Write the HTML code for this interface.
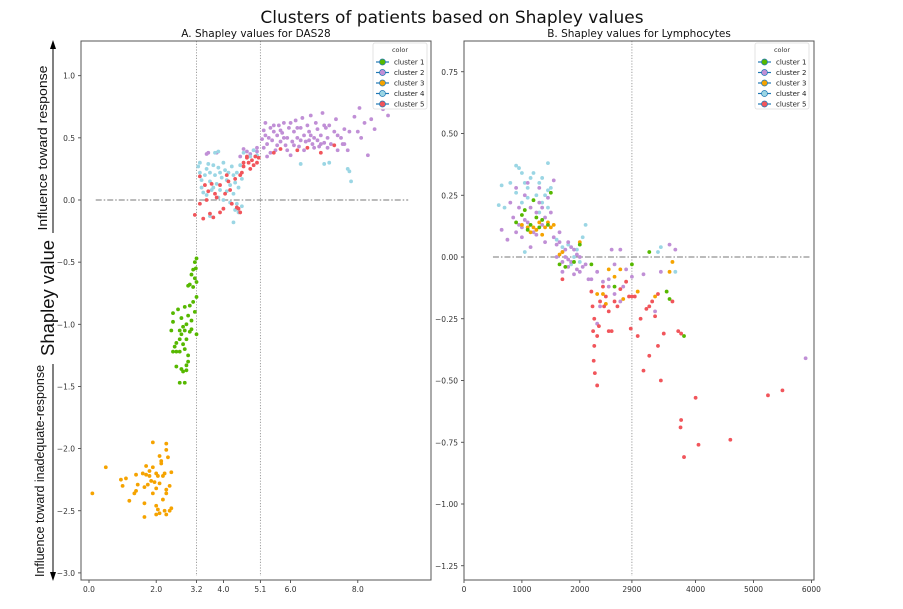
<!DOCTYPE html>
<html><head><meta charset="utf-8">
<style>
body{margin:0;background:#fff;width:903px;height:604px;overflow:hidden;font-family:"Liberation Sans","DejaVu Sans",sans-serif}
svg text{font-family:"DejaVu Sans","Liberation Sans",sans-serif}
svg text.lib{font-family:"Liberation Sans","DejaVu Sans",sans-serif}
</style></head>
<body>
<svg id="fig" width="903" height="604" viewBox="0 0 903 604" xmlns="http://www.w3.org/2000/svg">
<text x="452" y="23" text-anchor="middle" font-size="17" fill="#111">Clusters of patients based on Shapley values</text>
<text class="lib" transform="translate(54,298) rotate(-90)" text-anchor="middle" font-size="18" textLength="116" lengthAdjust="spacingAndGlyphs" fill="#111">Shapley value</text>
<text class="lib" transform="translate(47,148) rotate(-90)" text-anchor="middle" font-size="13" textLength="165" lengthAdjust="spacingAndGlyphs" fill="#111">Influence toward response</text>
<text class="lib" transform="translate(44,471) rotate(-90)" text-anchor="middle" font-size="13" textLength="212" lengthAdjust="spacingAndGlyphs" fill="#111">Influence toward inadequate-response</text>
<g>
<line x1="53" y1="48" x2="53" y2="233" stroke="#000" stroke-width="1"/>
<line x1="53" y1="364" x2="53" y2="572" stroke="#000" stroke-width="1"/>
<polygon points="53,40 50,49 56,49" fill="#000"/>
<polygon points="53,581 50,572 56,572" fill="#000"/>
</g>
<g id="panelA"></g>
<g id="panelB"></g>
</svg>
<script>
const colors=['#56b800','#c08fd6','#f5a300','#9bd6e4','#f1555b'];
const clusterNames=['cluster 1','cluster 2','cluster 3','cluster 4','cluster 5'];
const aXTicks=[0,2,3.2,4,5.1,6,8];
const aXTickLabels=['0.0','2.0','3.2','4.0','5.1','6.0','8.0'];
const aYTicks=[1,0.5,0,-0.5,-1,-1.5,-2,-2.5,-3];
const aYTickLabels=['1.0','0.5','0.0','\u22120.5','\u22121.0','\u22121.5','\u22122.0','\u22122.5','\u22123.0'];
const aVLines=[3.2,5.1];
const bXTicks=[0,1000,2000,2900,4000,5000,6000];
const bXTickLabels=['0','1000','2000','2900','4000','5000','6000'];
const bYTicks=[0.75,0.5,0.25,0,-0.25,-0.5,-0.75,-1,-1.25];
const bYTickLabels=['0.75','0.50','0.25','0.00','\u22120.25','\u22120.50','\u22120.75','\u22121.00','\u22121.25'];
const bVLines=[2900];
// Panel A data [x, shap]
const aCluster1=[[3.2,-0.47],[3.15,-0.5],[3.18,-0.55],[3.1,-0.56],[3.05,-0.6],[3.15,-0.63],[3.2,-0.66],[3.0,-0.68],[3.1,-0.7],[2.95,-0.69],[3.2,-0.78],[3.1,-0.82],[3.0,-0.85],[2.85,-0.86],[2.65,-0.88],[3.15,-0.9],[2.95,-0.93],[2.75,-0.95],[3.05,-0.97],[2.9,-1.0],[2.5,-0.98],[2.45,-1.05],[3.2,-1.08],[2.8,-1.02],[2.7,-1.05],[2.75,-1.08],[2.85,-1.05],[3.05,-1.04],[3.0,-1.06],[2.9,-1.12],[2.6,-1.15],[2.7,-1.12],[2.8,-1.16],[2.85,-1.2],[2.55,-1.18],[2.5,-1.22],[2.6,-1.22],[2.7,-1.22],[2.95,-1.25],[2.95,-1.3],[2.9,-1.33],[2.6,-1.34],[2.75,-1.36],[2.8,-1.38],[2.9,-1.37],[2.7,-1.47],[2.85,-1.47],[2.5,-0.91]];
const aCluster3=[[0.1,-2.36],[0.5,-2.15],[0.95,-2.25],[1.1,-2.24],[1.0,-2.3],[1.2,-2.42],[1.35,-2.36],[1.4,-2.34],[1.45,-2.29],[1.4,-2.21],[1.6,-2.2],[1.7,-2.21],[1.7,-2.14],[1.65,-2.31],[1.75,-2.29],[1.65,-2.44],[1.65,-2.55],[1.8,-2.18],[1.9,-2.15],[1.85,-2.26],[1.8,-2.22],[1.95,-2.27],[1.9,-2.36],[2.0,-2.32],[2.05,-2.22],[2.1,-2.28],[2.0,-2.46],[2.05,-2.49],[2.1,-2.52],[2.0,-2.53],[2.1,-2.06],[2.15,-2.1],[2.2,-2.22],[2.25,-2.2],[2.2,-2.41],[2.3,-2.33],[2.3,-2.36],[2.25,-2.5],[2.3,-2.53],[2.4,-2.5],[2.45,-2.48],[2.4,-2.3],[2.45,-2.19],[2.35,-2.07],[2.3,-2.01],[2.3,-1.96],[1.9,-1.95],[2.0,-2.2],[2.15,-2.12]];
const aCluster4=[[3.25,0.27],[3.3,0.22],[3.35,0.16],[3.4,0.06],[3.35,0.1],[3.45,0.2],[3.5,0.25],[3.55,0.29],[3.6,0.22],[3.6,0.15],[3.65,0.08],[3.5,0.04],[3.7,0.28],[3.75,0.2],[3.8,0.13],[3.85,0.26],[3.9,0.22],[3.95,0.18],[3.9,0.08],[3.85,0.02],[4.0,0.3],[4.05,0.24],[4.1,0.16],[4.1,0.07],[4.15,0.22],[4.2,0.12],[4.25,0.27],[4.3,0.2],[4.3,0.05],[4.35,0.14],[4.4,0.22],[4.45,0.1],[4.4,-0.03],[4.5,0.28],[4.55,0.17],[4.55,-0.05],[4.35,-0.08],[4.45,-0.1],[4.3,-0.18],[3.6,-0.13],[3.75,0.38],[3.85,0.39],[4.6,0.38],[4.8,0.35],[5.0,0.36],[4.9,0.4],[6.3,0.29],[7.0,0.29],[7.15,0.3],[7.7,0.25],[7.75,0.23],[7.8,0.15],[3.3,0.3],[3.7,0.1],[4.0,0.0],[4.2,-0.02]];
const aCluster5=[[3.15,-0.12],[3.3,0.19],[3.3,-0.03],[3.45,0.12],[3.5,0.0],[3.55,0.07],[3.6,-0.11],[3.7,-0.14],[3.65,0.13],[3.75,0.05],[3.8,0.02],[3.9,-0.1],[3.9,0.12],[4.0,-0.07],[4.05,0.05],[4.1,0.2],[4.2,0.08],[4.25,-0.03],[4.35,0.17],[4.4,-0.06],[4.45,-0.07],[4.5,-0.1],[4.55,0.22],[4.5,0.2],[4.6,0.27],[4.6,0.3],[4.7,0.34],[4.75,0.3],[4.8,0.25],[4.85,0.32],[4.9,0.28],[5.0,0.3],[5.05,0.34],[4.95,0.35],[4.7,0.35],[5.5,0.38],[5.7,0.41],[6.2,0.4],[6.5,0.42],[6.9,0.38],[7.3,0.44],[3.4,-0.15],[4.15,0.15]];
const aCluster2=[[3.5,0.37],[3.55,0.38],[3.8,0.38],[4.5,0.35],[4.6,0.41],[4.7,0.39],[4.8,0.37],[4.9,0.4],[5.0,0.39],[5.0,0.42],[5.15,0.49],[5.2,0.56],[5.25,0.62],[5.3,0.45],[5.35,0.5],[5.4,0.58],[5.45,0.48],[5.5,0.55],[5.55,0.4],[5.6,0.52],[5.65,0.6],[5.7,0.47],[5.75,0.54],[5.8,0.62],[5.85,0.44],[5.9,0.5],[5.95,0.58],[6.0,0.36],[6.05,0.47],[6.1,0.55],[6.15,0.64],[6.2,0.5],[6.25,0.43],[6.3,0.58],[6.35,0.66],[6.4,0.52],[6.45,0.47],[6.5,0.6],[6.55,0.55],[6.6,0.68],[6.65,0.45],[6.7,0.5],[6.75,0.62],[6.8,0.57],[6.85,0.43],[6.9,0.52],[6.95,0.7],[7.0,0.46],[7.05,0.58],[7.1,0.5],[7.15,0.6],[7.2,0.45],[7.3,0.55],[7.35,0.65],[7.4,0.52],[7.5,0.5],[7.55,0.45],[7.6,0.57],[7.7,0.4],[7.75,0.55],[7.9,0.67],[8.0,0.55],[8.05,0.74],[8.1,0.5],[8.2,0.62],[8.3,0.36],[8.4,0.65],[8.5,0.57],[8.6,0.77],[8.75,0.73],[8.9,0.68],[9.3,0.8],[9.15,0.79],[5.3,0.35],[5.6,0.44],[6.0,0.62],[6.3,0.48],[5.9,0.4],[5.5,0.6],[6.6,0.52],[7.0,0.6],[7.6,0.45],[7.4,0.4],[6.8,0.48],[5.2,0.42],[5.4,0.38],[5.8,0.5],[6.2,0.58],[6.4,0.4],[6.7,0.42],[7.1,0.42],[5.25,0.52],[5.7,0.56],[6.1,0.44],[6.55,0.48],[6.9,0.45]];
// Panel B data [lymphocytes, shap]
const bCluster1=[[900,0.14],[1000,0.17],[1050,0.19],[1150,0.13],[1250,0.16],[1300,0.12],[1350,0.15],[1450,0.13],[1500,0.26],[1200,0.23],[1650,-0.03],[1750,-0.04],[1900,-0.02],[2000,0.05],[2200,-0.03],[2600,-0.12],[2900,-0.03],[3200,0.02],[3500,-0.14],[3550,-0.17],[3800,-0.32],[1100,0.11]];
const bCluster2=[[750,0.07],[800,0.22],[850,0.16],[900,0.1],[900,0.28],[950,0.2],[1000,0.08],[1050,0.25],[1100,0.14],[1100,0.3],[1150,0.2],[1200,0.1],[1250,0.18],[1300,0.22],[1350,0.13],[1400,0.06],[1450,0.24],[1500,0.18],[1550,0.31],[1550,0.08],[1600,0.05],[1650,0.1],[1700,0.02],[1750,0.0],[1800,0.06],[1850,-0.02],[1900,0.03],[1950,-0.05],[2000,0.0],[2050,-0.04],[1700,-0.06],[1800,-0.04],[1900,-0.07],[2100,-0.03],[1650,0.06],[1750,0.03],[2200,-0.09],[2300,-0.06],[2400,-0.1],[2500,-0.09],[2550,0.03],[2700,0.03],[2800,-0.05],[2500,-0.12],[2600,-0.15],[2350,-0.2],[2300,-0.27],[2700,-0.18],[2900,-0.08],[3100,-0.07],[3400,-0.06],[3550,0.05],[3650,0.03],[3300,-0.22],[2750,-0.12],[5900,-0.41],[650,0.11],[1300,0.28],[1000,0.12],[1400,0.16],[1150,0.04],[2000,-0.06],[2150,-0.09],[2600,-0.03],[1600,0.0],[1700,-0.02],[1800,-0.01],[1850,0.04],[1950,0.01],[1250,0.09],[1350,0.2],[1050,0.15],[950,0.13]];
const bCluster3=[[1100,0.12],[1150,0.1],[1200,0.12],[1250,0.11],[1300,0.14],[1350,0.09],[1400,0.12],[1450,0.14],[1500,0.12],[1550,0.13],[1700,0.02],[1650,0.01],[2000,0.06],[2500,-0.05],[2600,-0.08],[2400,-0.15],[2450,-0.19],[2300,-0.15],[2700,-0.05],[2750,-0.17],[3000,-0.14],[3300,-0.16],[3600,-0.02],[3550,-0.06],[1000,0.13]];
const bCluster4=[[650,0.29],[800,0.3],[900,0.37],[950,0.36],[1000,0.34],[1050,0.3],[1100,0.28],[1150,0.32],[1200,0.34],[1250,0.25],[1300,0.3],[1350,0.22],[1400,0.25],[1450,0.38],[1500,0.28],[1450,0.2],[1350,0.32],[1100,0.24],[1000,0.22],[900,0.26],[700,0.2],[600,0.21],[1600,0.07],[1700,0.04],[1800,0.05],[1900,0.0],[2000,-0.02],[2050,0.08],[2100,0.13],[1950,0.03],[1850,-0.03],[3350,0.02],[3400,0.04],[3650,-0.06],[1050,0.02],[1300,0.18],[1450,0.27]];
const bCluster5=[[1700,-0.09],[2200,-0.14],[2220,-0.2],[2250,-0.25],[2230,-0.3],[2250,-0.36],[2240,-0.42],[2260,-0.47],[2300,-0.52],[2300,-0.32],[2350,-0.18],[2330,-0.28],[2400,-0.12],[2450,-0.16],[2500,-0.22],[2550,-0.3],[2600,-0.18],[2650,-0.2],[2700,-0.13],[2800,-0.1],[2850,-0.16],[2900,-0.16],[2880,-0.29],[3000,-0.32],[3050,-0.25],[3200,-0.2],[3200,-0.4],[3250,-0.18],[3350,-0.36],[3350,-0.15],[3400,-0.5],[3450,-0.31],[3600,-0.18],[3700,-0.3],[3750,-0.31],[3750,-0.66],[3740,-0.69],[3800,-0.81],[4000,-0.57],[4050,-0.76],[4600,-0.74],[5250,-0.56],[5500,-0.54],[3100,-0.46],[3300,-0.24],[2950,-0.16],[2500,-0.3],[2420,-0.2],[3150,-0.21]];

function build(g,cfg){
  const NS='http://www.w3.org/2000/svg';
  const mk=(t,a)=>{const e=document.createElementNS(NS,t);for(const k in a)e.setAttribute(k,a[k]);g.appendChild(e);return e;};
  const sx=v=>cfg.x0+(v-cfg.xmin)*cfg.kx, sy=v=>cfg.y0-(v-cfg.ymin)*cfg.ky;
  let t=mk('text',{x:(cfg.L+cfg.R)/2,y:cfg.T-4,'text-anchor':'middle','font-size':'10.5',fill:'#111'});t.textContent=cfg.title;
  
  
  cfg.xt.forEach((v,i)=>{
    const l=mk('line',{x1:sx(v),x2:sx(v),y1:cfg.B,y2:cfg.B+3,stroke:'#333','stroke-width':0.8});
    
    
    const tx=mk('text',{x:sx(v),y:cfg.B+12,'text-anchor':'middle','font-size':'7.5',fill:'#333'});tx.textContent=cfg.xl[i];
    
    
  });
  cfg.yt.forEach((v,i)=>{
    const l=mk('line',{x1:cfg.L-3,x2:cfg.L,y1:sy(v),y2:sy(v),stroke:'#333','stroke-width':0.8});
    
    
    const tx=mk('text',{x:cfg.L-6,y:sy(v)+3,'text-anchor':'end','font-size':'7.5',fill:'#333'});tx.textContent=cfg.yl[i];
    
    
  });
  cfg.vl.forEach(v=>{
    const l=mk('line',{x1:sx(v),x2:sx(v),y1:cfg.T,y2:cfg.B-4,stroke:'#888','stroke-width':0.8,'stroke-dasharray':'1.2,1.6'});
    
    
  });
  const h=mk('line',{x1:sx(cfg.hx0),x2:sx(cfg.hx1),y1:sy(0),y2:sy(0),stroke:'#777','stroke-width':0.9,'stroke-dasharray':'6,2,1.5,2'});
  
  
  cfg.order.forEach(ci=>{
    cfg.data[ci].forEach(p=>{
      const c=mk('circle',{cx:sx(p[0]),cy:sy(p[1]),r:1.9,fill:colors[ci]});
      
      
    });
  });
  const box=mk('rect',{x:cfg.L,y:cfg.T,width:cfg.R-cfg.L,height:cfg.B-cfg.T,fill:'none',stroke:'#555','stroke-width':1});
  
  
  const lg=cfg.lgx;
  const lr=mk('rect',{x:lg,y:cfg.T+2,width:54,height:66,fill:'#fff',stroke:'#ddd','stroke-width':0.8,rx:2});
  
  
  const lt=mk('text',{x:lg+27,y:cfg.T+11,'text-anchor':'middle','font-size':'6.5',fill:'#333'});lt.textContent='color';
  
  
  clusterNames.forEach((n,i)=>{
    const y=cfg.T+21+i*10.5;
    const ll=mk('line',{x1:lg+3,x2:lg+16,y1:y,y2:y,stroke:'#1f77b4','stroke-width':1.2});
    
    
    const lc=mk('circle',{cx:lg+9.5,cy:y,r:3,fill:colors[i],stroke:'#1f77b4','stroke-width':0.7});
    
    
    const tx=mk('text',{x:lg+21,y:y+2.5,'font-size':'7',fill:'#222'});tx.textContent=n;
    
    
  });
}
build(document.getElementById('panelA'),{L:81,R:431,T:41,B:580,x0:89,xmin:0,kx:33.6,y0:200,ymin:0,ky:124.3,
  title:'A. Shapley values for DAS28',xt:aXTicks,xl:aXTickLabels,yt:aYTicks,yl:aYTickLabels,vl:aVLines,hx0:0.2,hx1:9.5,lgx:373,
  data:[aCluster1,aCluster2,aCluster3,aCluster4,aCluster5],order:[2,0,1,3,4]});
build(document.getElementById('panelB'),{L:464,R:814,T:41,B:580,x0:464,xmin:0,kx:0.0579,y0:257,ymin:0,ky:247,
  title:'B. Shapley values for Lymphocytes',xt:bXTicks,xl:bXTickLabels,yt:bYTicks,yl:bYTickLabels,vl:bVLines,hx0:500,hx1:6000,lgx:755,
  data:[bCluster1,bCluster2,bCluster3,bCluster4,bCluster5],order:[3,1,2,0,4]});
</script>
</body></html>
